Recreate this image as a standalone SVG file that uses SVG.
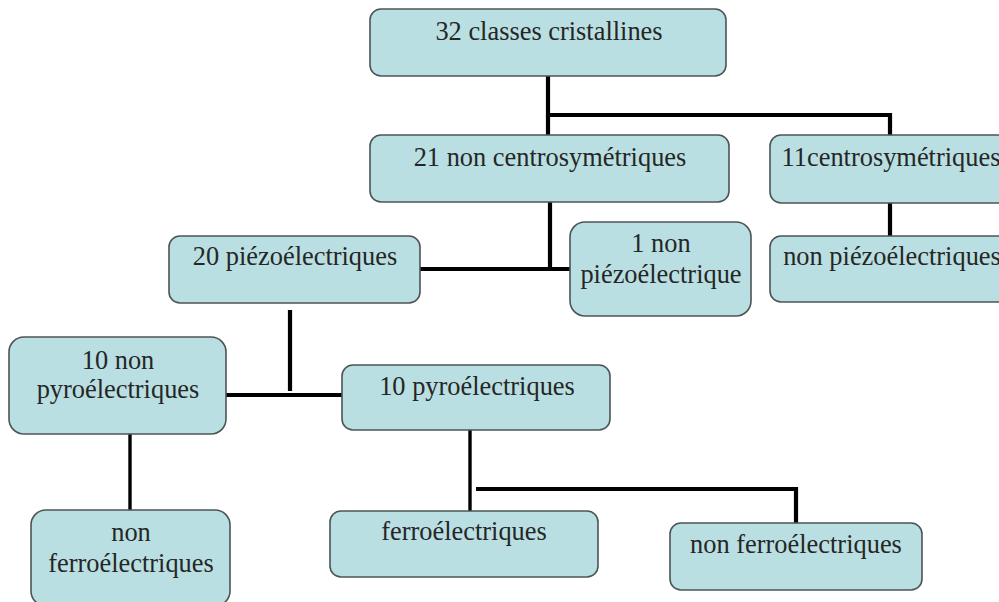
<svg xmlns="http://www.w3.org/2000/svg" width="999" height="602" viewBox="0 0 999 602">
<style>
.box{fill:#b9dfe2;stroke:#4d5456;stroke-width:1.6}
.t{font-family:"Liberation Serif","Times New Roman",serif;font-size:26.4px;fill:#262626;text-anchor:middle}
.c{fill:none;stroke:#000;stroke-width:4.2;stroke-linecap:butt;stroke-linejoin:miter}
.cn{fill:none;stroke:#000;stroke-width:3.4}
</style>
<rect width="999" height="602" fill="#fff"/>
<g id="connectors">
<path class="c" d="M548 76V135"/>
<path class="c" d="M548 115H890V135"/>
<path class="c" d="M550 202V269"/>
<path class="c" d="M420 269H570"/>
<path class="c" d="M890 203V236"/>
<path class="c" d="M290 310V391"/>
<path class="c" d="M226 395H342"/>
<path class="cn" d="M130 434V510"/>
<path class="cn" d="M470 430V511"/>
<path class="c" d="M476 489H796V523"/>
</g>
<g id="n32">
<rect class="box" x="370" y="9" width="356" height="67" rx="11"/>
<text class="t" x="549" y="40">32 classes cristallines</text>
</g>
<g id="n21">
<rect class="box" x="370" y="135" width="359" height="67" rx="11"/>
<text class="t" x="550" y="166">21 non centrosymétriques</text>
</g>
<g id="n11">
<rect class="box" x="770" y="135" width="242" height="68" rx="11"/>
<text class="t" x="891" y="166">11centrosymétriques</text>
</g>
<g id="n20">
<rect class="box" x="169" y="236" width="251" height="67" rx="11"/>
<text class="t" x="295" y="265">20 piézoélectriques</text>
</g>
<g id="n1">
<rect class="box" x="570" y="222" width="181" height="94" rx="15"/>
<text class="t" x="661" y="252">1 non</text>
<text class="t" x="661" y="283">piézoélectrique</text>
</g>
<g id="nnp">
<rect class="box" x="770" y="236" width="242" height="66" rx="11"/>
<text class="t" x="892" y="265">non piézoélectriques</text>
</g>
<g id="n10np">
<rect class="box" x="9" y="337" width="217" height="97" rx="15"/>
<text class="t" x="118" y="369">10 non</text>
<text class="t" x="118" y="398">pyroélectriques</text>
</g>
<g id="n10p">
<rect class="box" x="342" y="365" width="268" height="65" rx="11"/>
<text class="t" x="477" y="395">10 pyroélectriques</text>
</g>
<g id="nnf1">
<rect class="box" x="31" y="510" width="199" height="96" rx="15"/>
<text class="t" x="131" y="541">non</text>
<text class="t" x="131" y="572">ferroélectriques</text>
</g>
<g id="nf">
<rect class="box" x="330" y="511" width="268" height="66" rx="11"/>
<text class="t" x="464" y="540">ferroélectriques</text>
</g>
<g id="nnf2">
<rect class="box" x="670" y="523" width="252" height="67" rx="11"/>
<text class="t" x="796" y="553">non ferroélectriques</text>
</g>
</svg>
